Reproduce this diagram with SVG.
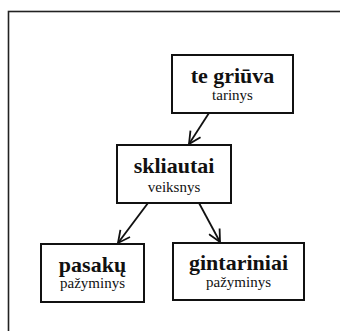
<svg xmlns="http://www.w3.org/2000/svg" width="340" height="331" viewBox="0 0 340 331">
  <style>
    .box { fill: #ffffff; stroke: #111111; stroke-width: 2; }
    .frame { fill: none; stroke: #222222; stroke-width: 1.6; }
    .word { font-family: "Liberation Serif", "Times New Roman", serif; font-weight: bold; font-size: 22px; fill: #111111; text-anchor: middle; }
    .role { font-family: "Liberation Serif", "Times New Roman", serif; font-size: 15px; fill: #111111; text-anchor: middle; }
    .edge { fill: none; stroke: #111111; stroke-width: 1.8; marker-end: url(#open); }
  </style>
  <defs>
    <marker id="open" viewBox="0 0 14 14" refX="13" refY="7" markerWidth="14" markerHeight="14" markerUnits="userSpaceOnUse" orient="auto">
      <polyline points="1,1 13,7 1,13" fill="none" stroke="#111111" stroke-width="1.8"/>
    </marker>
  </defs>

  <rect class="frame" x="8.5" y="11.5" width="400" height="400"/>

  <g id="connectors">
    <line class="edge" x1="209" y1="113" x2="189" y2="144"/>
    <line class="edge" x1="148" y1="203" x2="118" y2="243"/>
    <line class="edge" x1="199" y1="203" x2="220" y2="242"/>
  </g>

  <g id="node-te-griuva">
    <rect class="box" x="172" y="55" width="121" height="58"/>
    <text class="word" x="232.5" y="83">te griūva</text>
    <text class="role" x="232.5" y="100">tarinys</text>
  </g>

  <g id="node-skliautai">
    <rect class="box" x="117" y="145" width="114" height="58"/>
    <text class="word" x="174" y="173">skliautai</text>
    <text class="role" x="174" y="192">veiksnys</text>
  </g>

  <g id="node-pasaku">
    <rect class="box" x="41" y="244" width="103" height="58"/>
    <text class="word" x="92.5" y="272">pasakų</text>
    <text class="role" x="92.5" y="288">pažyminys</text>
  </g>

  <g id="node-gintariniai">
    <rect class="box" x="173" y="243" width="131" height="57"/>
    <text class="word" x="238.5" y="270">gintariniai</text>
    <text class="role" x="238.5" y="287">pažyminys</text>
  </g>
</svg>
